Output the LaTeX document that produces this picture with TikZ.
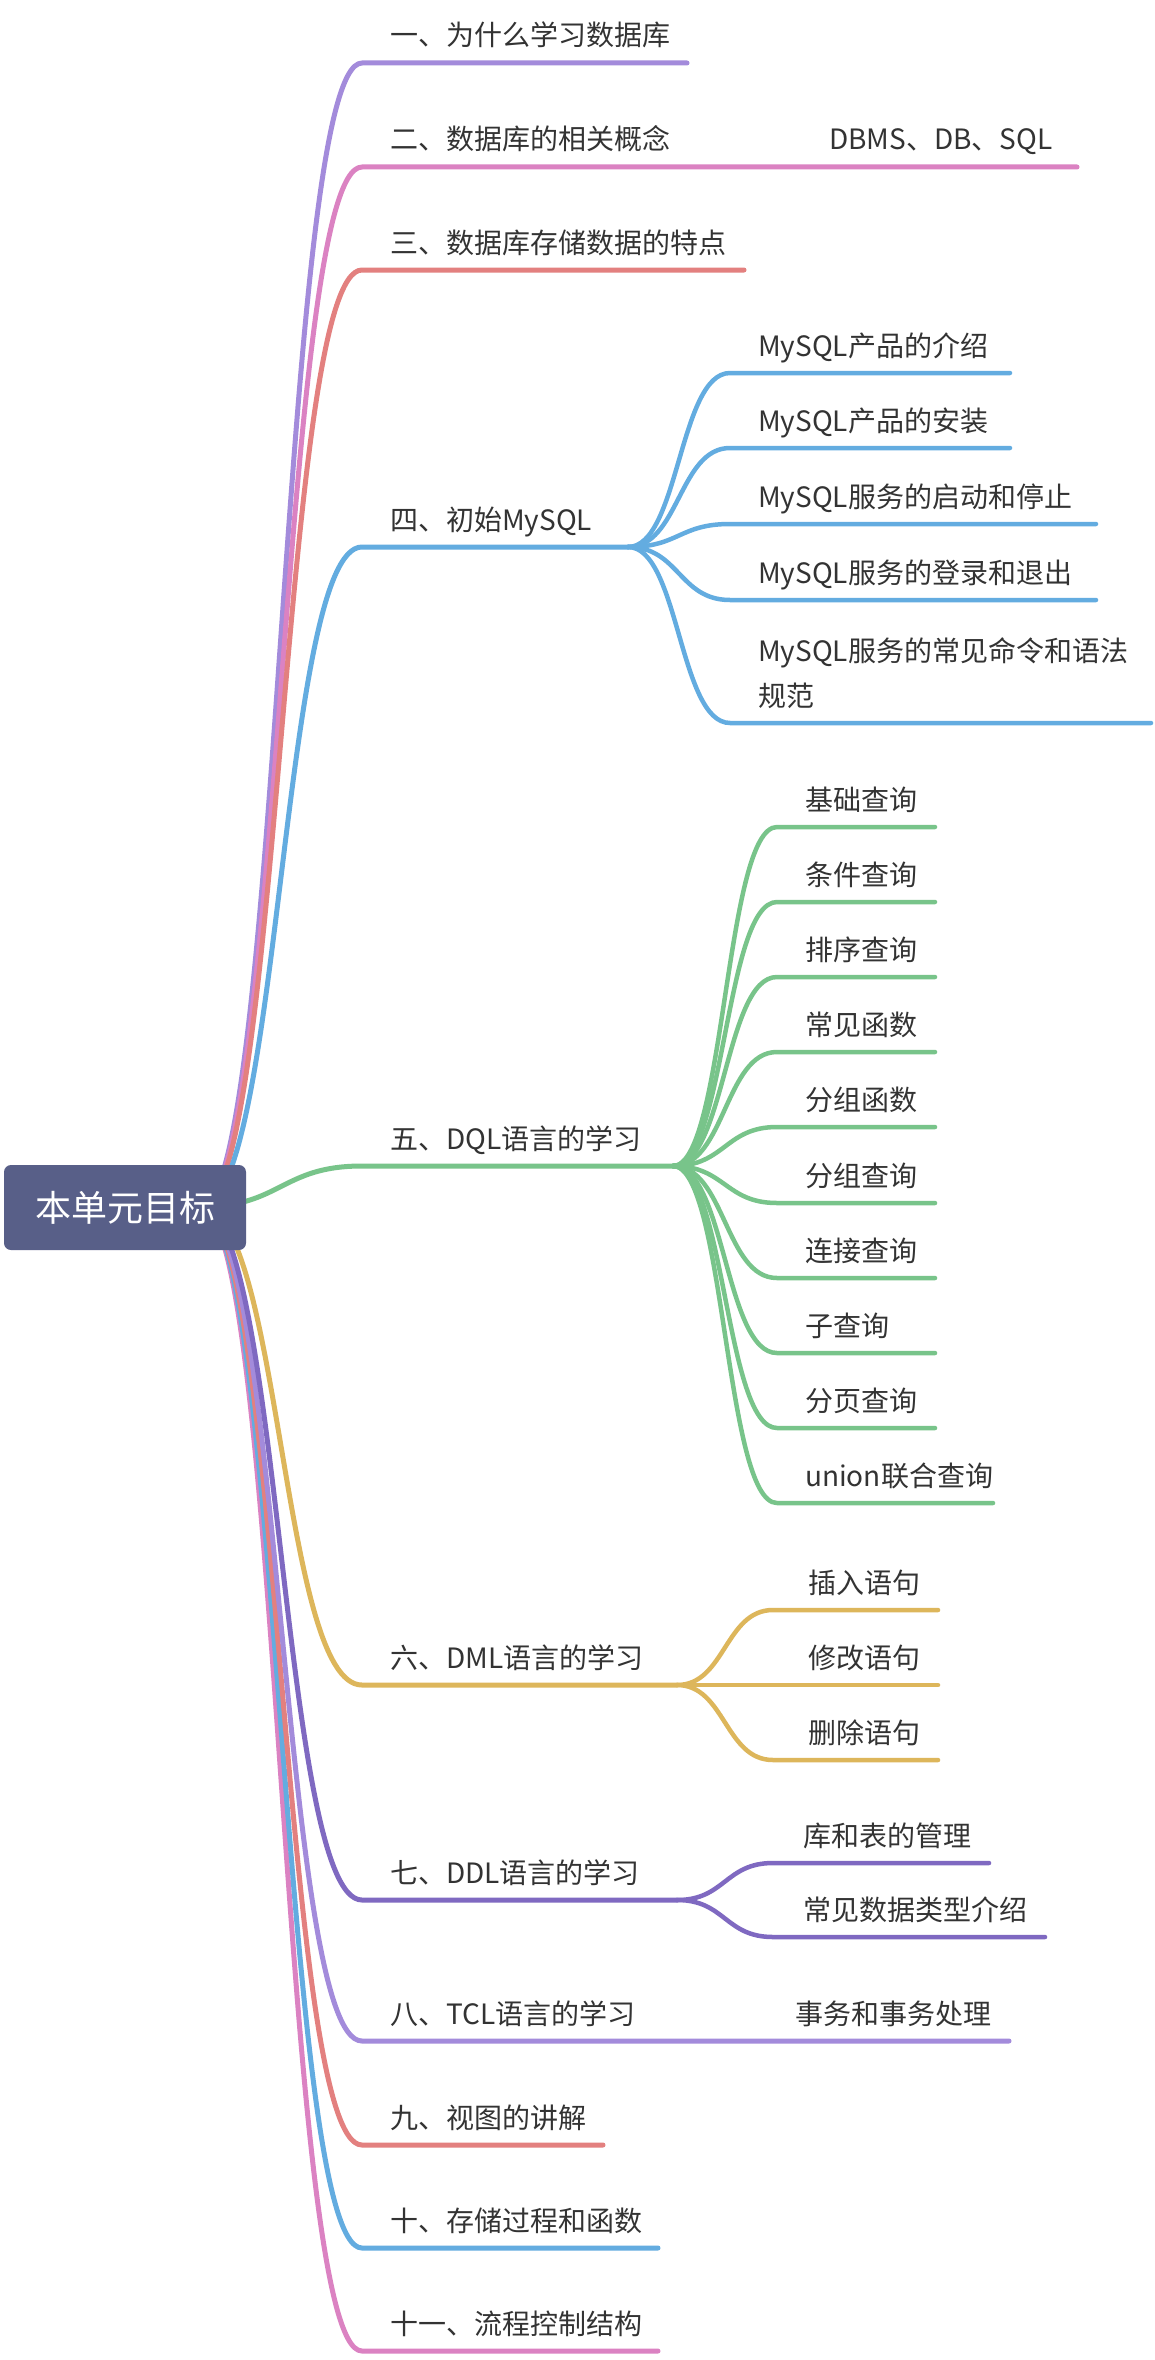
\documentclass[tikz,border=0pt]{standalone}
\usepackage{fontspec}
\setmainfont{Noto Sans CJK SC}
\usetikzlibrary{calc}
\definecolor{cA}{HTML}{A38BDB}
\definecolor{cB}{HTML}{DB82C2}
\definecolor{cC}{HTML}{E3807F}
\definecolor{cD}{HTML}{63ACE0}
\definecolor{cE}{HTML}{78C48A}
\definecolor{cF}{HTML}{DDB65B}
\definecolor{cG}{HTML}{7F69C1}
\definecolor{rootfill}{HTML}{585F88}
\definecolor{txt}{HTML}{333333}
\newcommand\sig[2]{let \p1=(#1),\p2=(#2) in (\p1) .. controls ({(\x1+\x2)/2},\y1) and ({(\x1+\x2)/2},\y2) .. (\p2)}
\begin{document}
\begin{tikzpicture}[x=1pt,y=-1pt,
  conn/.style={line width=5pt, line cap=round, line join=round},
  subconn/.style={line width=4.5pt, line cap=round, line join=round},
  lbl/.style={anchor=base west, inner sep=0pt, text=txt, font=\fontsize{28}{34}\selectfont},
  rootbox/.style={fill=rootfill, rounded corners=7pt, inner sep=0pt, minimum width=242pt, minimum height=85pt, text=white, font=\fontsize{36}{40}\selectfont}]
\useasboundingbox[fill=white] (0,0) rectangle (1154,2360);

% ---------- coordinates ----------
\coordinate (R) at (200,1207);
\coordinate (m1s) at (362,63);   \coordinate (m1e) at (687,63);
\coordinate (m2s) at (362,167);  \coordinate (m2e) at (1077,167);
\coordinate (m3s) at (362,270);  \coordinate (m3e) at (744,270);
\coordinate (m4s) at (362,547);  \coordinate (m4e) at (628,547);
\coordinate (m5s) at (362,1166); \coordinate (m5e) at (673,1166);
\coordinate (m6s) at (362,1685); \coordinate (m6e) at (677,1685);
\coordinate (m7s) at (362,1900); \coordinate (m7e) at (677,1900);
\coordinate (m8s) at (362,2041); \coordinate (m8e) at (1009,2041);
\coordinate (m9s) at (362,2145); \coordinate (m9e) at (603,2145);
\coordinate (m10s) at (362,2248); \coordinate (m10e) at (658,2248);
\coordinate (m11s) at (362,2351); \coordinate (m11e) at (658,2351);

% sub of 4
\coordinate (d1s) at (730,373); \coordinate (d1e) at (1010,373);
\coordinate (d2s) at (730,448); \coordinate (d2e) at (1010,448);
\coordinate (d3s) at (730,524); \coordinate (d3e) at (1096,524);
\coordinate (d4s) at (730,600); \coordinate (d4e) at (1096,600);
\coordinate (d5s) at (730,723); \coordinate (d5e) at (1151,723);
% sub of 5
\coordinate (e1s) at (777,827);  \coordinate (e1e) at (935,827);
\coordinate (e2s) at (777,902);  \coordinate (e2e) at (935,902);
\coordinate (e3s) at (777,977);  \coordinate (e3e) at (935,977);
\coordinate (e4s) at (777,1052); \coordinate (e4e) at (935,1052);
\coordinate (e5s) at (777,1127); \coordinate (e5e) at (935,1127);
\coordinate (e6s) at (777,1203); \coordinate (e6e) at (935,1203);
\coordinate (e7s) at (777,1278); \coordinate (e7e) at (935,1278);
\coordinate (e8s) at (777,1353); \coordinate (e8e) at (935,1353);
\coordinate (e9s) at (777,1428); \coordinate (e9e) at (935,1428);
\coordinate (e10s) at (777,1503); \coordinate (e10e) at (993,1503);
% sub of 6
\coordinate (f1s) at (773,1610); \coordinate (f1e) at (938,1610);
\coordinate (f2s) at (773,1685); \coordinate (f2e) at (938,1685);
\coordinate (f3s) at (773,1760); \coordinate (f3e) at (938,1760);
% sub of 7
\coordinate (g1s) at (773,1863); \coordinate (g1e) at (989,1863);
\coordinate (g2s) at (773,1937); \coordinate (g2e) at (1045,1937);

% ---------- main connectors ----------
\draw[conn,cB] \sig{R}{m11s} -- (m11e);
\draw[conn,cD] \sig{R}{m10s} -- (m10e);
\draw[conn,cC] \sig{R}{m9s} -- (m9e);
\draw[conn,cA] \sig{R}{m8s} -- (m8e);
\draw[conn,cG] \sig{R}{m7s} -- (m7e);
\draw[conn,cF] \sig{R}{m6s} -- (m6e);
\draw[conn,cA] \sig{R}{m1s} -- (m1e);
\draw[conn,cB] \sig{R}{m2s} -- (m2e);
\draw[conn,cC] \sig{R}{m3s} -- (m3e);
\draw[conn,cD] \sig{R}{m4s} -- (m4e);
\draw[conn,cE] \sig{R}{m5s} -- (m5e);

% ---------- sub connectors ----------
\foreach \k in {1,...,5}{\draw[subconn,cD] \sig{m4e}{d\k s} -- (d\k e);}
\foreach \k in {1,...,10}{\draw[subconn,cE] \sig{m5e}{e\k s} -- (e\k e);}
\foreach \k in {1,...,3}{\draw[subconn,cF] \sig{m6e}{f\k s} -- (f\k e);}
\foreach \k in {1,2}{\draw[subconn,cG] \sig{m7e}{g\k s} -- (g\k e);}

% ---------- root ----------
\node[rootbox] (root) at (125,1207.5) {本单元目标};

% ---------- main labels ----------
\node[lbl] (t1) at (390,46) {一、为什么学习数据库};
\node[lbl] (t2) at (390,150) {二、数据库的相关概念};
\node[lbl] (t2a) at (829,150) {DBMS、DB、SQL};
\node[lbl] (t3) at (390,253) {三、数据库存储数据的特点};
\node[lbl] (t4) at (390,530) {四、初始MySQL};
\node[lbl] (t5) at (390,1149) {五、DQL语言的学习};
\node[lbl] (t6) at (390,1668) {六、DML语言的学习};
\node[lbl] (t7) at (390,1883) {七、DDL语言的学习};
\node[lbl] (t8) at (390,2024) {八、TCL语言的学习};
\node[lbl] (t8a) at (795,2024) {事务和事务处理};
\node[lbl] (t9) at (390,2128) {九、视图的讲解};
\node[lbl] (t10) at (390,2231) {十、存储过程和函数};
\node[lbl] (t11) at (390,2334) {十一、流程控制结构};

% ---------- sub labels ----------
\node[lbl] (d1) at (758,356) {MySQL产品的介绍};
\node[lbl] (d2) at (758,431) {MySQL产品的安装};
\node[lbl] (d3) at (758,507) {MySQL服务的启动和停止};
\node[lbl] (d4) at (758,583) {MySQL服务的登录和退出};
\node[lbl] (d5) at (758,661) {\vtop{\baselineskip=45pt\lineskiplimit=0pt\hbox{MySQL服务的常见命令和语法}\hbox{规范}}};

\node[lbl] (e1) at (805,810) {基础查询};
\node[lbl] (e2) at (805,885) {条件查询};
\node[lbl] (e3) at (805,960) {排序查询};
\node[lbl] (e4) at (805,1035) {常见函数};
\node[lbl] (e5) at (805,1110) {分组函数};
\node[lbl] (e6) at (805,1186) {分组查询};
\node[lbl] (e7) at (805,1261) {连接查询};
\node[lbl] (e8) at (805,1336) {子查询};
\node[lbl] (e9) at (805,1411) {分页查询};
\node[lbl] (e10) at (805,1486) {union联合查询};

\node[lbl] (f1) at (808,1593) {插入语句};
\node[lbl] (f2) at (808,1668) {修改语句};
\node[lbl] (f3) at (808,1743) {删除语句};

\node[lbl] (g1) at (803,1846) {库和表的管理};
\node[lbl] (g2) at (803,1920) {常见数据类型介绍};
\end{tikzpicture}
\end{document}
